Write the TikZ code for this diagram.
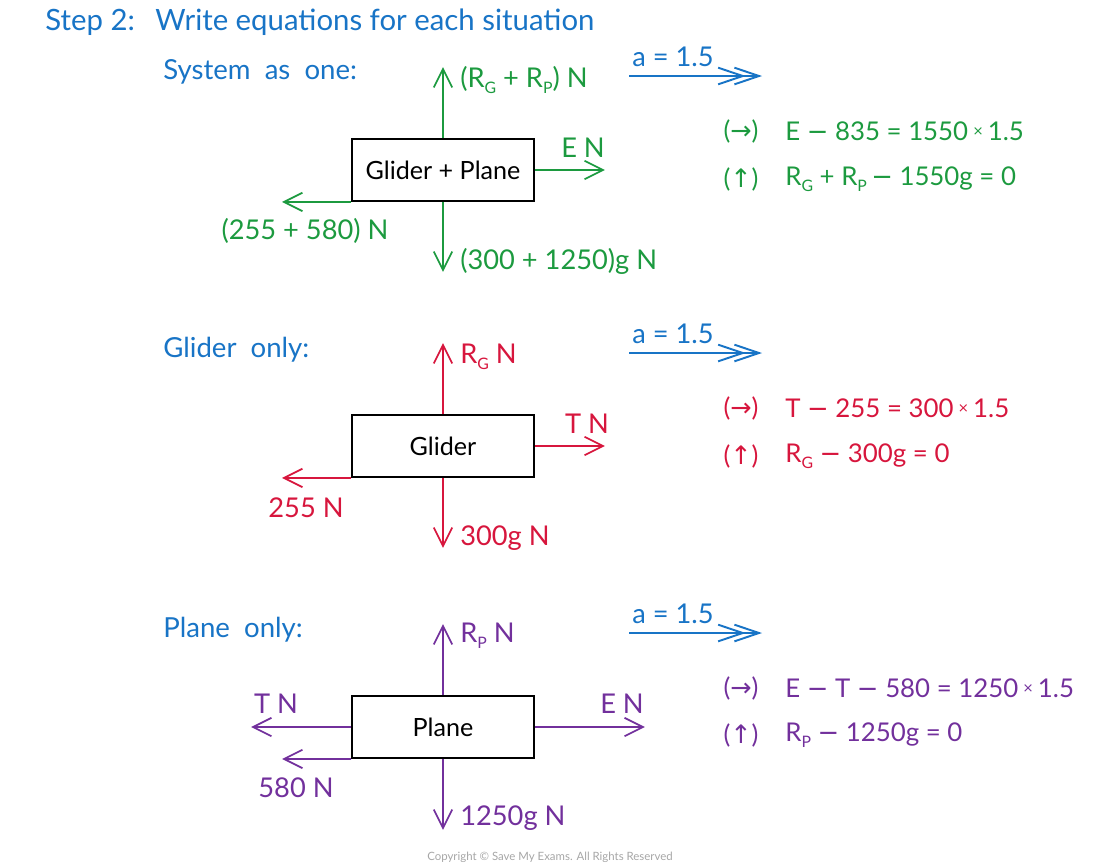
\documentclass[tikz,border=0pt]{standalone}
\usepackage{fontspec}
\setmainfont{Lato}
\newfontfamily\symfont{DejaVu Sans}
\usepackage{xcolor}
\usetikzlibrary{arrows.meta,positioning}

\definecolor{smeblue}{HTML}{1874C6}
\definecolor{smegreen}{HTML}{1C9A3F}
\definecolor{smered}{HTML}{D7163D}
\definecolor{smepurple}{HTML}{72309C}

\newcommand{\mi}{{\symfont −}}
\newcommand{\ti}{\raisebox{0.35ex}{\symfont\fontsize{7.5}{8}\selectfont ×}}
\newcommand{\ra}{{\symfont →}}
\newcommand{\ua}{{\symfont ↑}}
\newcommand{\sbs}[1]{\raisebox{-0.45ex}{\fontsize{9}{9}\selectfont #1}}

\tikzset{
  heading/.style={text=smeblue, anchor=west, inner sep=0pt, font=\fontsize{15.7}{18}\selectfont},
  body/.style={draw=black, text=black, line width=1.1pt, minimum width=3.64cm, minimum height=1.24cm, inner sep=0pt, font=\fontsize{14.3}{16}\selectfont},
  force/.style={-{Straight Barb[length=10.5pt,width=10.5pt]}, line width=1pt},
  flabel/.style={inner sep=0pt, font=\fontsize{15.5}{18}\selectfont},
  accel/.style={smeblue, line width=1.1pt, -{Straight Barb[length=14pt,width=9.5pt,sep=-7pt] Straight Barb[length=14pt,width=9.5pt]}},
  eqn/.style={inner sep=0pt, anchor=west, font=\fontsize{14.7}{18}\selectfont},
  dirn/.style={inner sep=0pt, font=\fontsize{14.5}{18}\selectfont},
}

\begin{document}
\begin{tikzpicture}[x=0.02cm,y=-0.02cm]
  \useasboundingbox (0,0) rectangle (1100,867);
  \node[heading, font=\fontsize{16.7}{20}\selectfont] (step) at (45,22) {Step 2:\hspace{0.7em}Write equations for each situation};

  % system as one
  \node[heading] (hsys) at (163,72) {System\ \ as\ \ one:};
  \node[body] (sys) at (443,170) {Glider + Plane};
  \begin{scope}[smegreen]
    \draw[force] (sys.north) -- ++(0,-71) coordinate (sysup);
    \draw[force] (sys.east) -- ++(70,0) coordinate (sysrt);
    \draw[force] (sys.south west) -- ++(-69,0) coordinate (syslt);
    \draw[force] (sys.south) -- ++(0,70) coordinate (sysdn);
    \node[flabel, anchor=west] (sysupl) at (460,80) {(R\sbs{G} + R\sbs{P}) N};
    \node[flabel] (sysrtl) at (583,148) {E N};
    \node[flabel] (sysltl) at (305,231) {(255 + 580) N};
    \node[flabel, anchor=west] (sysdnl) at (460,261) {(300\ +\ 1250)g\ N};
    \node[dirn] (sysh) at (741,131) {(\ra)};
    \node[dirn] (sysv) at (741,179) {(\ua)};
    \node[eqn] (syseqh) at (785,131) {E \mi{} 835 = 1550\,\ti\,1.5};
    \node[eqn] (syseqv) at (785,179) {R\sbs{G} + R\sbs{P}\,\mi{} 1550g = 0};
  \end{scope}
  \coordinate (sysa) at (629,76);
  \draw[accel] (sysa) -- ++(133,0);
  \node[flabel, text=smeblue] (sysal) at (673,57) {a = 1.5};

  % glider only
  \node[heading] (hgli) at (163,350) {Glider\ \ only:};
  \node[body] (gli) at (443,446) {Glider};
  \begin{scope}[smered]
    \draw[force] (gli.north) -- ++(0,-71) coordinate (gliup);
    \draw[force] (gli.east) -- ++(70,0) coordinate (glirt);
    \draw[force] (gli.south west) -- ++(-69,0) coordinate (glilt);
    \draw[force] (gli.south) -- ++(0,70) coordinate (glidn);
    \node[flabel, anchor=west] (gliupl) at (460,357) {R\sbs{G} N};
    \node[flabel] (glirtl) at (587,424) {T N};
    \node[flabel] (gliltl) at (306,508) {255 N};
    \node[flabel, anchor=west] (glidnl) at (460,538) {300g N};
    \node[dirn] (glih) at (741,408) {(\ra)};
    \node[dirn] (gliv) at (741,456) {(\ua)};
    \node[eqn] (glieqh) at (785,408) {T \mi{} 255 = 300\,\ti\,1.5};
    \node[eqn] (glieqv) at (785,456) {R\sbs{G} \mi{} 300g = 0};
  \end{scope}
  \coordinate (glia) at (629,353);
  \draw[accel] (glia) -- ++(133,0);
  \node[flabel, text=smeblue] (glial) at (673,334) {a = 1.5};

  % plane only
  \node[heading] (hpla) at (163,630) {Plane\ \ only:};
  \node[body] (pla) at (443,727) {Plane};
  \begin{scope}[smepurple]
    \draw[force] (pla.north) -- ++(0,-71) coordinate (plaup);
    \draw[force] (pla.east) -- ++(110,0) coordinate (plart);
    \draw[force] (pla.west) -- ++(-100,0) coordinate (plalt);
    \draw[force] (pla.south west) -- ++(-69,0) coordinate (plalt2);
    \draw[force] (pla.south) -- ++(0,71) coordinate (pladn);
    \node[flabel, anchor=west] (plaupl) at (460,636) {R\sbs{P} N};
    \node[flabel] (plartl) at (622,704) {E N};
    \node[flabel] (plaltl) at (276,704) {T N};
    \node[flabel] (plalt2l) at (296,788) {580 N};
    \node[flabel, anchor=west] (pladnl) at (460,818) {1250g N};
    \node[dirn] (plah) at (741,688) {(\ra)};
    \node[dirn] (plav) at (741,735) {(\ua)};
    \node[eqn] (plaeqh) at (785,688) {E \mi{} T \mi{} 580 = 1250\,\ti\,1.5};
    \node[eqn] (plaeqv) at (785,735) {R\sbs{P} \mi{} 1250g = 0};
  \end{scope}
  \coordinate (plaa) at (629,633);
  \draw[accel] (plaa) -- ++(133,0);
  \node[flabel, text=smeblue] (plaal) at (673,614) {a = 1.5};

  \node[text=gray!70, font=\fontsize{6.5}{8}\selectfont] (copy) at (550,857) {Copyright © Save My Exams. All Rights Reserved};
\end{tikzpicture}
\end{document}
